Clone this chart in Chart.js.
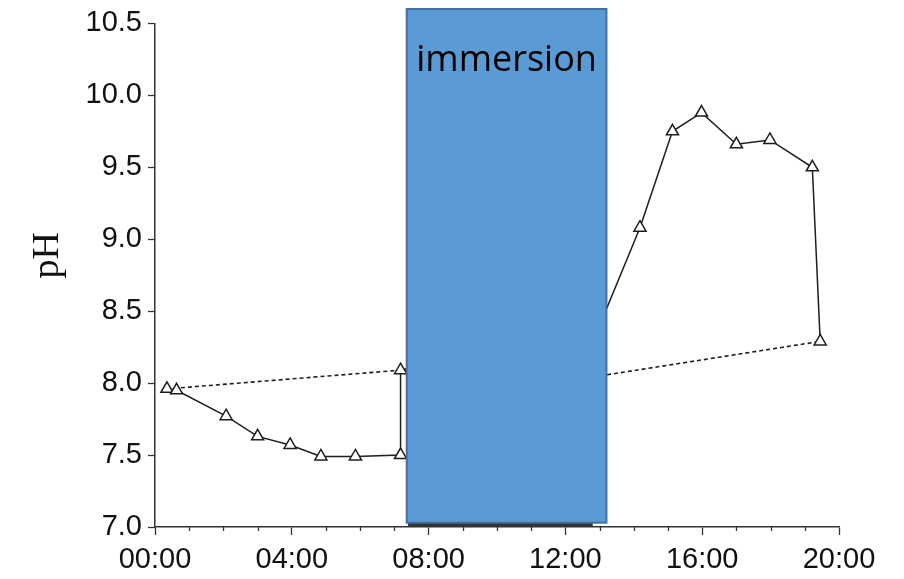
<!DOCTYPE html>
<html>
<head>
<meta charset="utf-8">
<script src="https://cdn.jsdelivr.net/npm/chart.js@4.4.1/dist/chart.umd.min.js"></script>
<style>
  body { margin: 0; background: #fff; }
  #wrap { width: 904px; height: 579px; }
</style>
</head>
<body>
<div id="wrap"><canvas id="c" width="904" height="579"></canvas></div>
<script>
// pH over the day, hours since 00:00
const hours = [0.35, 0.63, 2.08, 3.0, 3.95, 4.85, 5.86, 7.18, 7.18, 13.0, 14.18, 15.13, 15.98, 17.0, 17.98, 19.22, 19.45]
const phValues = [7.96, 7.95, 7.77, 7.63, 7.57, 7.49, 7.49, 7.50, 8.09, 8.40, 9.08, 9.75, 9.88, 9.66, 9.69, 9.50, 8.29]

// dashed reference line
const dashHours = [0.35, 7.18, 13.0, 19.45]
const dashValues = [7.96, 8.09, 8.05, 8.29]

const xTickLabels = ['00:00', '04:00', '08:00', '12:00', '16:00', '20:00']
const yTitle = 'pH'

// immersion period (hours) and the box it is drawn as (pH units)
const immersion = [7.36, 13.2]
const immersionBar = [7.40, 12.8]
const immersionBox = [7.03, 10.6]
const immersionText = 'immersion'

const ink = '#1e1e1e'
const tickFont = { family: '"Liberation Sans", Arial, sans-serif', size: 29 }

const toXY = (xs, ys) => xs.map((x, i) => ({ x: x, y: ys[i] }))

const immersionPlugin = {
    id: 'immersion',
    afterDatasetsDraw(chart) {
        const ctx = chart.ctx
        const xs = chart.scales.x
        const ys = chart.scales.y
        const axisY = ys.getPixelForValue(7.0)

        // dark bar on the time axis
        const b0 = xs.getPixelForValue(immersionBar[0])
        const b1 = xs.getPixelForValue(immersionBar[1])
        ctx.save()
        ctx.fillStyle = '#333'
        ctx.fillRect(b0, axisY - 5, b1 - b0, 5)

        // the box
        const x0 = xs.getPixelForValue(immersion[0])
        const x1 = xs.getPixelForValue(immersion[1])
        const yTop = ys.getPixelForValue(immersionBox[1])
        const yBot = ys.getPixelForValue(immersionBox[0])
        ctx.fillStyle = '#5B9BD5'
        ctx.fillRect(x0, yTop, x1 - x0, yBot - yTop)
        ctx.strokeStyle = '#41719C'
        ctx.lineWidth = 2
        ctx.strokeRect(x0, yTop, x1 - x0, yBot - yTop)

        ctx.fillStyle = '#000'
        ctx.font = '36px "Open Sans", "Noto Sans", sans-serif'
        ctx.textAlign = 'center'
        ctx.textBaseline = 'alphabetic'
        ctx.fillText(immersionText, (x0 + x1) / 2, yTop + 62)
        ctx.restore()
    },
    afterDraw(chart) {
        const ctx = chart.ctx
        const xs = chart.scales.x
        const area = chart.chartArea
        const axisY = chart.scales.y.getPixelForValue(7.0)
        ctx.save()

        // minor hour ticks on the x axis
        ctx.strokeStyle = '#333'
        ctx.lineWidth = 1.3
        xs.ticks.forEach(t => {
            if (t.value % 4 === 0) return
            const px = Math.round(xs.getPixelForValue(t.value)) + 0.5
            ctx.beginPath()
            ctx.moveTo(px, axisY)
            ctx.lineTo(px, axisY + 4)
            ctx.stroke()
        })

        // y axis title, a little above the middle like the original
        ctx.translate(48, (area.top + area.bottom) / 2 - 20)
        ctx.rotate(-Math.PI / 2)
        ctx.fillStyle = '#111'
        ctx.font = '38px "Liberation Serif", "Times New Roman", serif'
        ctx.textAlign = 'center'
        ctx.textBaseline = 'middle'
        ctx.fillText(yTitle, 0, 0)
        ctx.restore()
    }
}

new Chart(document.getElementById('c'), {
    type: 'line',
    data: {
        datasets: [
            {
                data: toXY(hours, phValues),
                borderColor: ink,
                borderWidth: 1.5,
                pointStyle: 'triangle',
                pointRadius: 7,
                pointBackgroundColor: '#fff',
                pointBorderColor: ink,
                pointBorderWidth: 1.5,
                tension: 0,
                order: 1,
            },
            {
                data: toXY(dashHours, dashValues),
                borderColor: ink,
                borderWidth: 1.6,
                borderDash: [4, 3],
                pointRadius: 0,
                tension: 0,
                order: 2,
            }
        ]
    },
    options: {
        responsive: false,
        animation: false,
        layout: { padding: { left: 0, right: 65, top: 22, bottom: 0 } },
        plugins: {
            legend: { display: false },
            tooltip: { enabled: false },
        },
        scales: {
            x: {
                type: 'linear',
                min: 0,
                max: 20,
                afterFit: s => { s.height = 52 },
                border: { color: '#333', width: 1.5 },
                grid: {
                    drawOnChartArea: false,
                    tickLength: 8,
                    tickWidth: 1.3,
                    tickColor: c => (c.tick && c.tick.value % 4 === 0) ? '#333' : 'rgba(0,0,0,0)',
                },
                ticks: {
                    stepSize: 1,
                    autoSkip: false,
                    maxRotation: 0,
                    padding: 8,
                    color: '#111',
                    font: tickFont,
                    callback: v => v % 4 === 0 ? xTickLabels[v / 4] : '',
                },
            },
            y: {
                min: 7.0,
                max: 10.5,
                afterFit: s => { s.width = 155 },
                border: { color: '#333', width: 1.5 },
                grid: {
                    drawOnChartArea: false,
                    tickLength: 7,
                    tickWidth: 1.3,
                    tickColor: '#333',
                },
                ticks: {
                    stepSize: 0.5,
                    padding: 6,
                    color: '#111',
                    font: tickFont,
                    callback: v => v.toFixed(1),
                },
            }
        }
    },
    plugins: [immersionPlugin]
})
</script>
</body>
</html>
